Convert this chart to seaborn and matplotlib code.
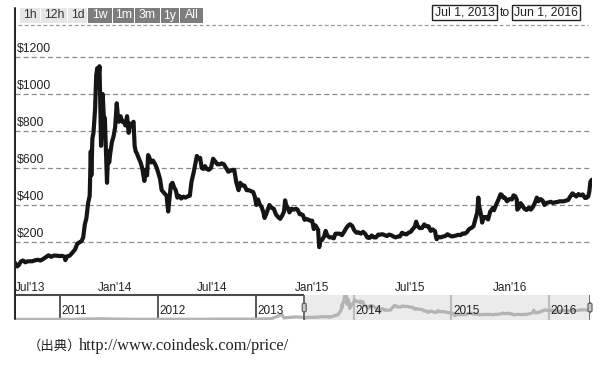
import pandas as pd
import seaborn as sns
import matplotlib.pyplot as plt
from matplotlib.patches import Rectangle, FancyBboxPatch
from matplotlib.lines import Line2D

# bitcoin price (USD), Jul 2013 - Jun 2016
dates = [
    "2013-07-01", "2013-07-05", "2013-07-08", "2013-07-12", "2013-07-16", "2013-07-20", "2013-07-24", "2013-07-28",
    "2013-08-02", "2013-08-07", "2013-08-12", "2013-08-17", "2013-08-22", "2013-08-27", "2013-09-01", "2013-09-06",
    "2013-09-11", "2013-09-16", "2013-09-21", "2013-09-26", "2013-10-01", "2013-10-02", "2013-10-05", "2013-10-10",
    "2013-10-15", "2013-10-20", "2013-10-24", "2013-10-28", "2013-11-01", "2013-11-04", "2013-11-07", "2013-11-10",
    "2013-11-13", "2013-11-16", "2013-11-18", "2013-11-19", "2013-11-21", "2013-11-23", "2013-11-26", "2013-11-28",
    "2013-11-30", "2013-12-02", "2013-12-04", "2013-12-05", "2013-12-07", "2013-12-08", "2013-12-10", "2013-12-12",
    "2013-12-14", "2013-12-16", "2013-12-18", "2013-12-20", "2013-12-22", "2013-12-24", "2013-12-27", "2013-12-30",
    "2014-01-02", "2014-01-05", "2014-01-07", "2014-01-09", "2014-01-12", "2014-01-15", "2014-01-18", "2014-01-21",
    "2014-01-24", "2014-01-27", "2014-01-30", "2014-02-02", "2014-02-05", "2014-02-07", "2014-02-09", "2014-02-11",
    "2014-02-15", "2014-02-18", "2014-02-21", "2014-02-24", "2014-02-25", "2014-02-27", "2014-03-02", "2014-03-04",
    "2014-03-07", "2014-03-10", "2014-03-13", "2014-03-17", "2014-03-20", "2014-03-23", "2014-03-26", "2014-03-29",
    "2014-04-01", "2014-04-04", "2014-04-07", "2014-04-10", "2014-04-12", "2014-04-15", "2014-04-18", "2014-04-21",
    "2014-04-24", "2014-04-27", "2014-04-30", "2014-05-04", "2014-05-08", "2014-05-12", "2014-05-16", "2014-05-20",
    "2014-05-23", "2014-05-27", "2014-05-30", "2014-06-02", "2014-06-05", "2014-06-08", "2014-06-11", "2014-06-14",
    "2014-06-17", "2014-06-20", "2014-06-24", "2014-06-28", "2014-07-02", "2014-07-06", "2014-07-10", "2014-07-14",
    "2014-07-18", "2014-07-22", "2014-07-26", "2014-07-30", "2014-08-03", "2014-08-07", "2014-08-10", "2014-08-14",
    "2014-08-18", "2014-08-21", "2014-08-25", "2014-08-29", "2014-09-02", "2014-09-06", "2014-09-10", "2014-09-14",
    "2014-09-17", "2014-09-20", "2014-09-23", "2014-09-26", "2014-09-30", "2014-10-03", "2014-10-05", "2014-10-08",
    "2014-10-11", "2014-10-14", "2014-10-18", "2014-10-22", "2014-10-26", "2014-10-30", "2014-11-03", "2014-11-07",
    "2014-11-10", "2014-11-12", "2014-11-14", "2014-11-17", "2014-11-20", "2014-11-24", "2014-11-28", "2014-12-02",
    "2014-12-05", "2014-12-09", "2014-12-12", "2014-12-15", "2014-12-18", "2014-12-21", "2014-12-25", "2014-12-29",
    "2015-01-01", "2015-01-04", "2015-01-07", "2015-01-10", "2015-01-12", "2015-01-14", "2015-01-16", "2015-01-19",
    "2015-01-23", "2015-01-26", "2015-01-29", "2015-02-02", "2015-02-06", "2015-02-10", "2015-02-13", "2015-02-17",
    "2015-02-21", "2015-02-25", "2015-03-01", "2015-03-05", "2015-03-09", "2015-03-12", "2015-03-16", "2015-03-20",
    "2015-03-24", "2015-03-28", "2015-04-01", "2015-04-05", "2015-04-09", "2015-04-13", "2015-04-17", "2015-04-21",
    "2015-04-25", "2015-04-29", "2015-05-03", "2015-05-07", "2015-05-11", "2015-05-15", "2015-05-19", "2015-05-23",
    "2015-05-27", "2015-05-31", "2015-06-04", "2015-06-08", "2015-06-12", "2015-06-16", "2015-06-20", "2015-06-24",
    "2015-06-28", "2015-07-02", "2015-07-06", "2015-07-10", "2015-07-12", "2015-07-15", "2015-07-19", "2015-07-23",
    "2015-07-27", "2015-07-31", "2015-08-04", "2015-08-08", "2015-08-12", "2015-08-16", "2015-08-18", "2015-08-19",
    "2015-08-23", "2015-08-27", "2015-08-31", "2015-09-04", "2015-09-08", "2015-09-12", "2015-09-16", "2015-09-20",
    "2015-09-24", "2015-09-28", "2015-10-02", "2015-10-06", "2015-10-10", "2015-10-14", "2015-10-18", "2015-10-22",
    "2015-10-26", "2015-10-30", "2015-11-02", "2015-11-04", "2015-11-05", "2015-11-07", "2015-11-10", "2015-11-11",
    "2015-11-14", "2015-11-18", "2015-11-22", "2015-11-26", "2015-11-29", "2015-12-01", "2015-12-03", "2015-12-06",
    "2015-12-09", "2015-12-12", "2015-12-15", "2015-12-17", "2015-12-20", "2015-12-23", "2015-12-27", "2015-12-30",
    "2016-01-02", "2016-01-05", "2016-01-08", "2016-01-11", "2016-01-14", "2016-01-15", "2016-01-18", "2016-01-21",
    "2016-01-25", "2016-01-28", "2016-02-01", "2016-02-05", "2016-02-09", "2016-02-13", "2016-02-17", "2016-02-20",
    "2016-02-23", "2016-02-27", "2016-03-02", "2016-03-05", "2016-03-09", "2016-03-13", "2016-03-17", "2016-03-21",
    "2016-03-25", "2016-03-29", "2016-04-02", "2016-04-06", "2016-04-10", "2016-04-14", "2016-04-18", "2016-04-22",
    "2016-04-26", "2016-04-29", "2016-05-03", "2016-05-07", "2016-05-11", "2016-05-15", "2016-05-19", "2016-05-22",
    "2016-05-25", "2016-05-27", "2016-05-29", "2016-05-30", "2016-06-01",
]
prices = [
    88, 68, 75, 95, 100, 90, 95, 96,
    96, 101, 104, 100, 108, 118, 128, 120,
    127, 126, 124, 125, 120, 102, 122, 126,
    142, 160, 190, 198, 205, 225, 295, 330,
    410, 450, 690, 560, 760, 790, 920, 1100,
    1140, 1070, 1150, 1030, 720, 800, 1000, 880,
    870, 700, 520, 690, 630, 680, 740, 770,
    820, 950, 880, 850, 880, 850, 850, 830,
    880, 790, 840, 830, 850, 720, 690, 680,
    650, 630, 600, 550, 530, 590, 560, 670,
    650, 630, 640, 620, 600, 570, 540, 480,
    470, 460, 450, 365, 425, 510, 520, 495,
    480, 440, 450, 435, 445, 440, 447, 450,
    525, 575, 620, 665, 650, 655, 600, 595,
    610, 595, 590, 600, 650, 635, 620, 620,
    625, 620, 600, 580, 585, 590, 590, 520,
    480, 520, 505, 505, 480, 480, 475, 470,
    445, 400, 430, 405, 386, 360, 330, 350,
    375, 400, 385, 380, 350, 335, 325, 345,
    365, 425, 400, 385, 360, 380, 375, 380,
    375, 350, 350, 345, 320, 325, 320, 315,
    315, 270, 290, 275, 265, 172, 205, 210,
    230, 260, 235, 225, 225, 220, 245, 245,
    245, 237, 255, 275, 290, 296, 287, 262,
    250, 252, 245, 255, 244, 224, 222, 235,
    225, 225, 240, 240, 242, 237, 232, 240,
    237, 230, 225, 229, 230, 250, 244, 241,
    250, 255, 270, 285, 310, 285, 275, 276,
    295, 285, 285, 260, 268, 258, 225, 215,
    228, 225, 230, 232, 242, 235, 230, 232,
    235, 239, 237, 246, 245, 253, 270, 276,
    285, 327, 360, 440, 400, 375, 330, 305,
    335, 335, 322, 365, 375, 385, 372, 395,
    415, 435, 458, 455, 440, 440, 420, 430,
    432, 430, 452, 448, 430, 375, 385, 410,
    395, 380, 373, 385, 375, 390, 415, 440,
    420, 432, 423, 400, 412, 414, 417, 411,
    415, 416, 420, 420, 420, 424, 427, 447,
    463, 455, 446, 459, 452, 457, 438, 439,
    446, 472, 525, 530, 537,
]

# earlier history, only shown in the small navigator strip
early_dates = ["2010-07-18", "2010-11-06", "2011-02-10", "2011-06-08", "2011-08-01", "2011-11-18",
               "2012-01-10", "2012-06-01", "2012-08-17", "2012-12-31", "2013-02-28", "2013-04-09",
               "2013-04-16", "2013-06-01"]
early_prices = [0.1, 0.3, 1, 30, 13, 2, 7, 5, 13, 13, 33, 230, 70, 120]

y_ticks = [200, 400, 600, 800, 1000, 1200]
x_tick_dates = ["2013-07-01", "2014-01-01", "2014-07-01", "2015-01-01", "2015-07-01", "2016-01-01"]
x_tick_labels = ["Jul'13", "Jan'14", "Jul'14", "Jan'15", "Jul'15", "Jan'16"]
nav_years = ["2011", "2012", "2013", "2014", "2015", "2016"]
range_buttons = ["1h", "12h", "1d", "1w", "1m", "3m", "1y", "All"]
date_from = "Jul 1, 2013"
date_to = "Jun 1, 2016"
source_label = "（出典）"
source_url = "http://www.coindesk.com/price/"

sns.set_style("white")
plt.rcParams["font.family"] = ["Liberation Sans", "Noto Sans CJK JP", "DejaVu Sans"]

W, H = 600, 365
fig = plt.figure(figsize=(6, 3.65), dpi=100)


def fx(px):
    return px / W


def fy(py):
    return 1 - py / H


# main price chart
df = pd.DataFrame({"date": pd.to_datetime(dates), "price": prices})
ax = fig.add_axes([fx(15), fy(279), fx(592) - fx(15), fy(25) - fy(279)])
for v in y_ticks:
    ax.axhline(v, color="#8a8a8a", lw=0.9, ls=(0, (4, 2.5)), zorder=0)
    ax.annotate(f"${v}", xy=(0, v), xycoords=("axes fraction", "data"),
                xytext=(1.5, 1.2), textcoords="offset points",
                fontsize=8.8, color="#222222", ha="left", va="bottom")
sns.lineplot(data=df, x="date", y="price", ax=ax, color="#151515", linewidth=3.0)
ax.lines[-1].set_solid_joinstyle("round")
ax.set_xlim(df["date"].iloc[0], df["date"].iloc[-1])
ax.set_ylim(0, 1373)
ax.set_yticks([])
ax.set_xticks(pd.to_datetime(x_tick_dates), x_tick_labels)
ax.get_xticklabels()[0].set_horizontalalignment("left")
ax.tick_params(axis="x", length=0, pad=2, labelsize=8.5, labelcolor="#222222")
ax.set_xlabel("")
ax.set_ylabel("")
for s in ax.spines.values():
    s.set_visible(False)

# navigator strip
nav = pd.DataFrame({"date": pd.to_datetime(early_dates + dates), "price": early_prices + prices})
ax_nav = fig.add_axes([fx(15), fy(320), fx(590) - fx(15), fy(295) - fy(320)])
start, end = df["date"].iloc[0], df["date"].iloc[-1]
ax_nav.axvspan(start, end, color="#ebebeb", lw=0, zorder=0)
sns.lineplot(data=nav, x="date", y="price", ax=ax_nav, color="#b4b4b4", linewidth=2.3)
ax_nav.set_xlim(nav["date"].iloc[0], end)
ax_nav.set_ylim(-30, 1170)
for yr in nav_years:
    d = pd.Timestamp(f"{yr}-01-01")
    dark = d < start
    ax_nav.axvline(d, color="#3a3a3a" if dark else "#bdbdbd", lw=1.2 if dark else 1.6, zorder=1)
    ax_nav.text(d + pd.Timedelta(days=6), 0.1, yr, transform=ax_nav.get_xaxis_transform(),
                fontsize=8.5, color="#222222", ha="left", va="bottom")
ax_nav.hlines(1170, nav["date"].iloc[0], start, color="#4a4a4a", lw=1.5, clip_on=False)
for d in (start, end):
    ax_nav.axvline(d, color="#555555", lw=1.2, zorder=3)
ax_nav.set_xticks([])
ax_nav.set_yticks([])
ax_nav.set_xlabel("")
ax_nav.set_ylabel("")
for s in ax_nav.spines.values():
    s.set_visible(False)

# drag handles on the navigator
to_fig = fig.transFigure.inverted()
for d in (start, end):
    xd = ax_nav.transData.transform((ax_nav.convert_xunits(d), 0))[0]
    xf = to_fig.transform((xd, 0))[0]
    fig.add_artist(FancyBboxPatch((xf - fx(2), fy(312)), fx(4), fy(303) - fy(312),
                                  boxstyle="round,pad=0,rounding_size=0.004",
                                  fc="#c8c8c8", ec="#666666", lw=0.9, zorder=5))

# frame lines
fig.add_artist(Line2D([fx(15), fx(15)], [fy(8), fy(319)], color="#222222", lw=1.4))
fig.add_artist(Line2D([fx(18), fx(588)], [fy(25), fy(25)], color="#9a9a9a", lw=0.9, ls=(0, (3, 2))))

# range buttons
btn_x = [(20, 40), (41, 67), (68, 87), (88, 112), (113, 134), (135, 160), (161, 179), (180, 203)]
for i, (lab, (x0, x1)) in enumerate(zip(range_buttons, btn_x)):
    dark = i >= 3
    fig.add_artist(Rectangle((fx(x0), fy(23)), fx(x1) - fx(x0), fy(8) - fy(23),
                             fc="#7d7d7d" if dark else "#e6e6e6", ec="none"))
    fig.text(fx((x0 + x1) / 2), fy(15.5), lab, fontsize=8.8, ha="center", va="center",
             color="white" if dark else "#333333")

# date range boxes
for lab, (x0, x1) in ((date_from, (432, 497)), (date_to, (512, 580))):
    fig.add_artist(Rectangle((fx(x0), fy(20)), fx(x1) - fx(x0), fy(5) - fy(20),
                             fc="white", ec="#222222", lw=1.0))
    fig.text(fx((x0 + x1) / 2), fy(12.5), lab, fontsize=8.8, ha="center", va="center", color="#222222")
fig.text(fx(504.5), fy(12.5), "to", fontsize=8.8, ha="center", va="center", color="#222222")

# source line
fig.text(fx(28), fy(350), source_label, fontsize=9.6, family=["Noto Sans CJK JP"],
         ha="left", va="baseline", color="#222222")
fig.text(fx(79), fy(350), source_url, fontsize=11.8, family=["Liberation Serif"],
         ha="left", va="baseline", color="#222222")

fig.savefig("out.png", dpi=100)
